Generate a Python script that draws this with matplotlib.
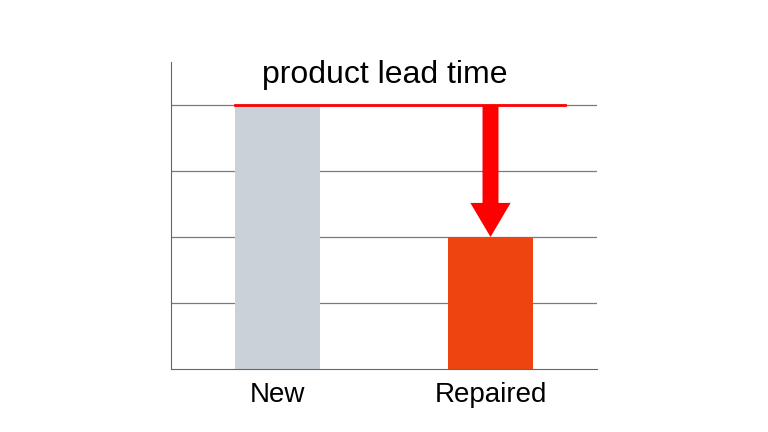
import matplotlib
matplotlib.use("Agg")
import matplotlib.pyplot as plt
import numpy as np

categories = ["New", "Repaired"]
lead_time = [4, 2]
bar_colors = ["#cad2d9", "#ee4510"]
title = "product lead time"

plt.rcParams["font.family"] = ["Liberation Sans", "DejaVu Sans"]

fig = plt.figure(figsize=(7.68, 4.32), dpi=100)
ax = fig.add_axes([171 / 768, 63 / 432, 426 / 768, 307 / 432])

x = np.arange(len(categories))
ax.bar(x, lead_time, width=0.4, color=bar_colors, zorder=2)

ax.set_xlim(-0.5, 1.5)
ax.set_ylim(0, 4.65)
ax.set_yticks([1, 2, 3, 4])
ax.yaxis.grid(True, color="#7a7a7a", linewidth=0.9, zorder=0)
ax.tick_params(axis="y", length=0, labelleft=False)
ax.set_xticks(x)
ax.set_xticklabels(categories, fontsize=20)
ax.tick_params(axis="x", length=0, pad=9)

for side in ["top", "right"]:
    ax.spines[side].set_visible(False)
ax.spines["left"].set_color("#666666")
ax.spines["bottom"].set_color("#666666")

# red reference line at the "new" level and arrow down to "repaired"
ax.plot([x[0] - 0.2, x[1] + 0.35], [lead_time[0], lead_time[0]], color="red", linewidth=2, zorder=3)
ax.annotate("", xy=(x[1], lead_time[1]), xytext=(x[1], lead_time[0]),
            arrowprops=dict(width=11.5, headwidth=29, headlength=24.5, shrink=0,
                            facecolor="red", edgecolor="none"), zorder=4)

fig.text(384.5 / 768, 1 - 75 / 432, title, fontsize=23, ha="center", va="center")

fig.savefig("out.png", dpi=100)
